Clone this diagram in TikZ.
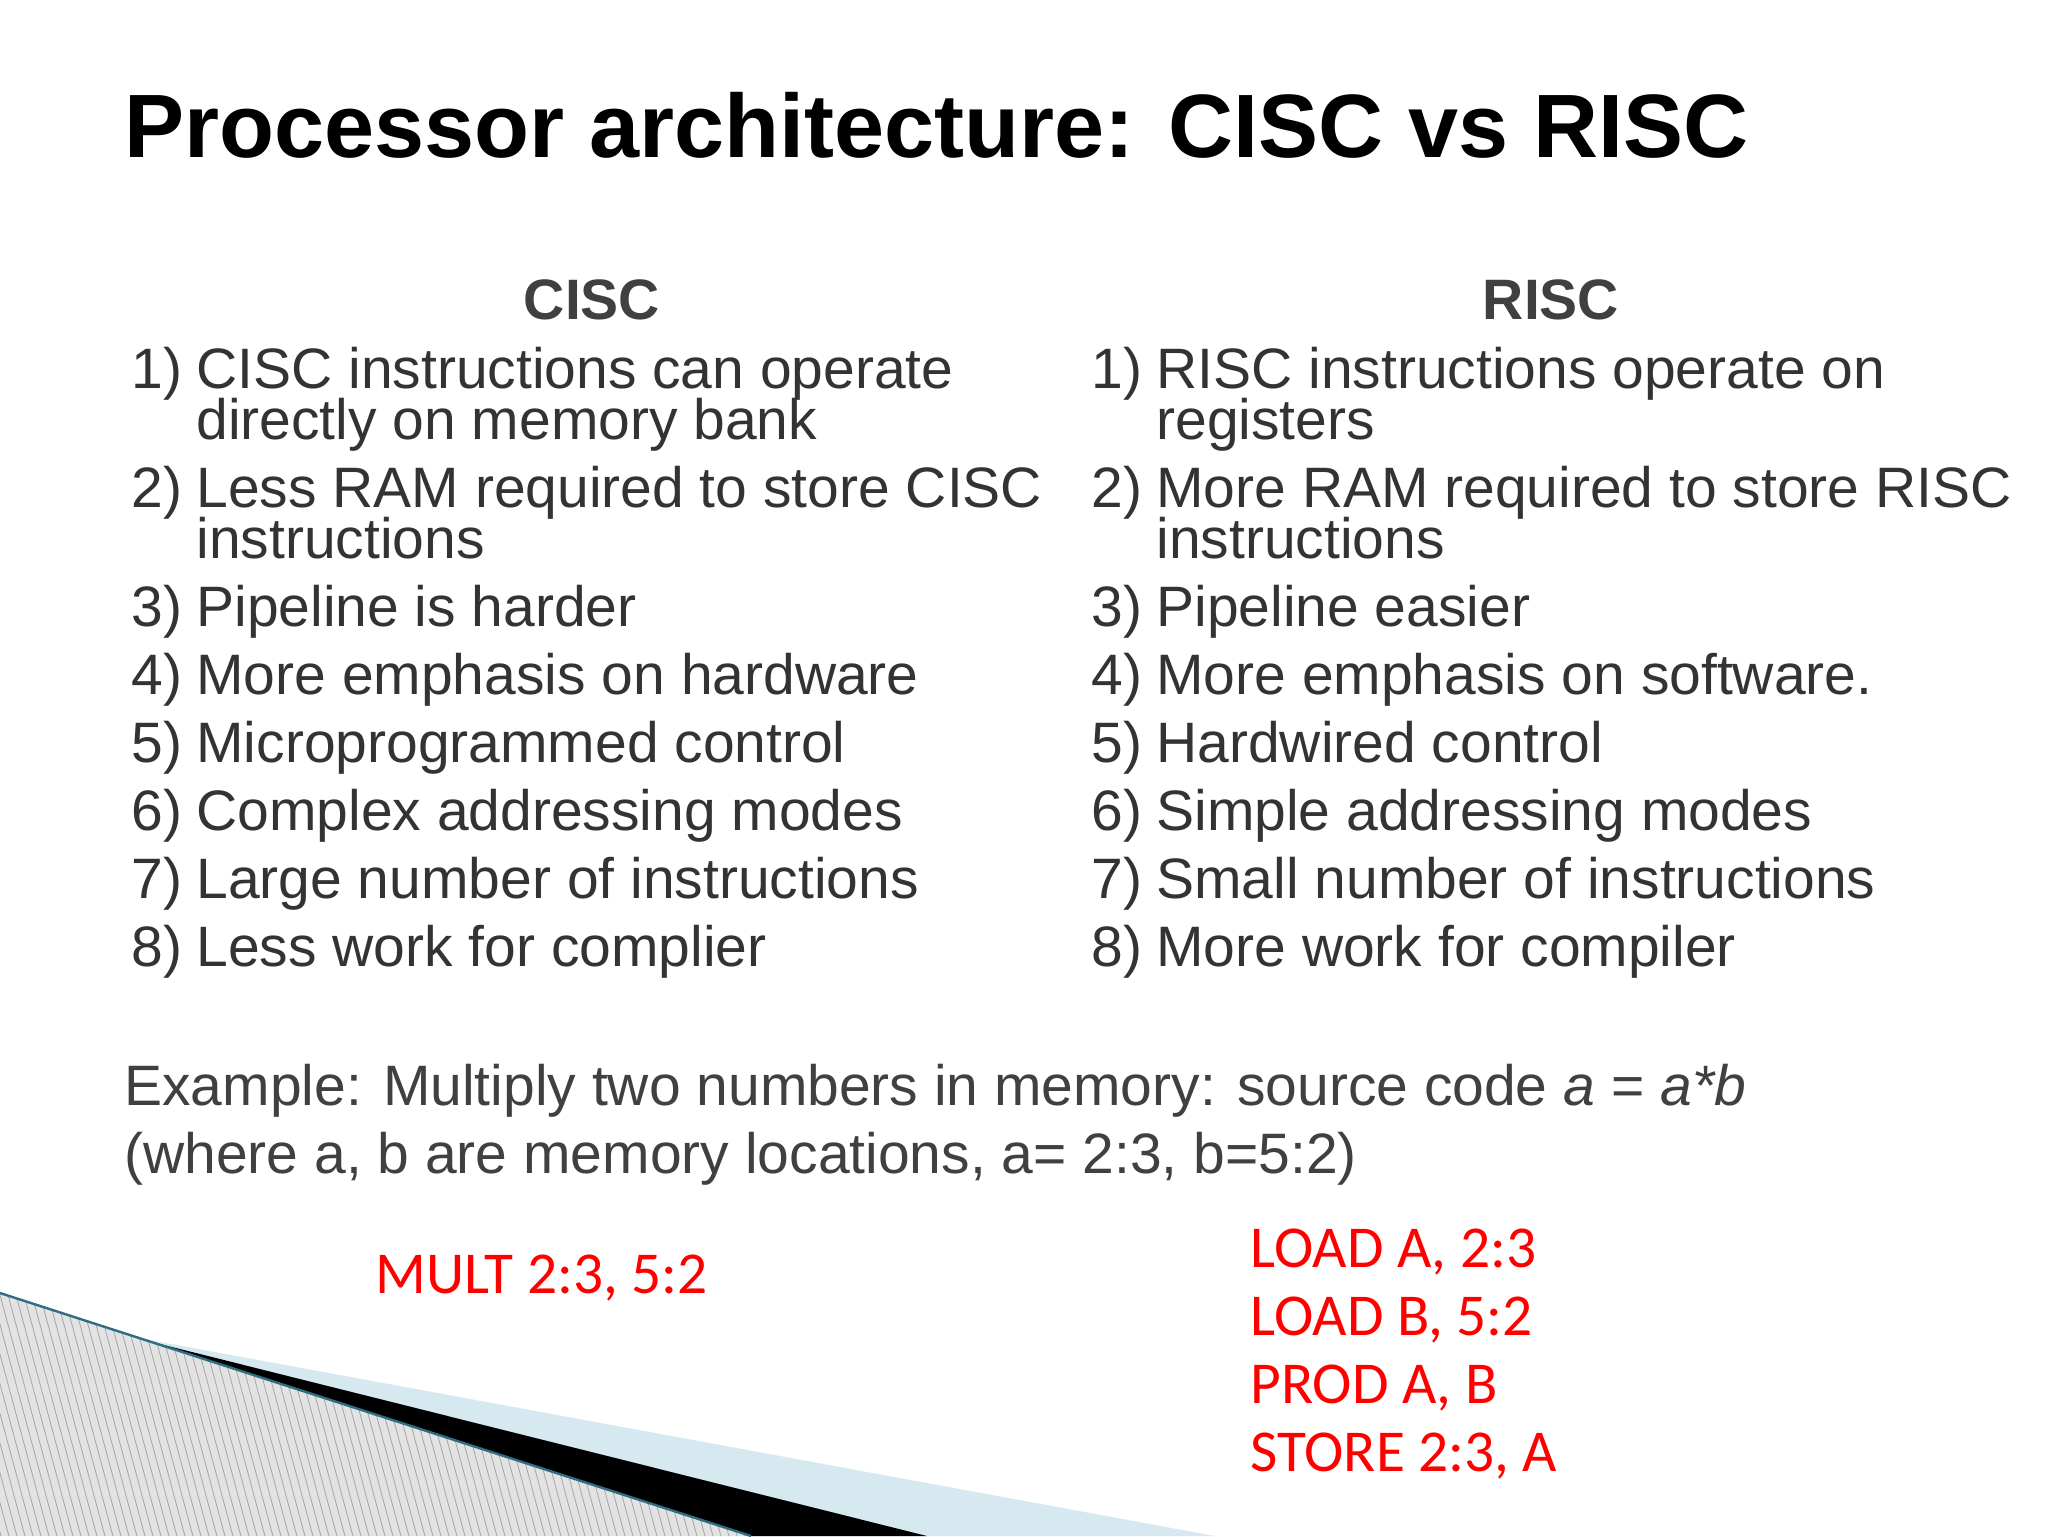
\documentclass[tikz,border=0pt]{standalone}
\usepackage{fontspec}
\setmainfont{Liberation Sans}
\newfontfamily\redfont{Carlito}
\definecolor{txt}{HTML}{333333}
\definecolor{hdr}{HTML}{404040}
\definecolor{lblue}{HTML}{D6E8F0}
\definecolor{tealc}{HTML}{2E6E80}
\begin{document}
\begin{tikzpicture}[x=0.5pt,y=-0.5pt,
  item/.style={anchor=base west,inner sep=0pt,font=\fontsize{28.5pt}{34pt}\selectfont,text=txt},
  head/.style={anchor=base,inner sep=0pt,font=\fontsize{28.5pt}{34pt}\selectfont\bfseries,text=hdr},
  redtxt/.style={anchor=base west,inner sep=0pt,font=\redfont\fontsize{29.7pt}{34pt}\selectfont,text=red}]
\useasboundingbox (0,0) rectangle (2048,1536);
\fill[white] (0,0) rectangle (2048,1536);
% decoration
\fill[lblue] (144,1339) -- (1215,1536) -- (700,1536) -- cycle;
\fill[black] (104,1330) -- (927,1536) -- (751,1536) -- cycle;
\begin{scope}
\clip (0,1293) -- (751,1536) -- (0,1536) -- cycle;
\fill[gray!22] (0,1280) rectangle (760,1536);
\foreach \i in {-300,-292,...,760} \draw[gray!70,line width=0.4pt] (\i,1280) -- (\i+70,1540);
\end{scope}
\draw[tealc,line width=1.2pt] (0,1293) -- (751,1536);
% title
\node[anchor=base west,inner sep=0pt,font=\fontsize{45pt}{54pt}\selectfont\bfseries] (title) at (124,157) {Processor architecture: CISC vs RISC};
% headers
\node[head] (hc) at (592,319) {CISC};
\node[head] (hr) at (1551,319) {RISC};
% CISC list
\foreach \n/\y/\t [count=\k] in {
 1)/388/{CISC instructions can operate},
 2)/507/{Less RAM required to store CISC},
 3)/626/{Pipeline is harder},
 4)/694/{More emphasis on hardware},
 5)/762/{Microprogrammed control},
 6)/830/{Complex addressing modes},
 7)/898/{Large number of instructions},
 8)/966/{Less work for complier}}{
 \node[item] (cn\k) at (131,\y) {\n};
 \node[item] (ct\k) at (196,\y) {\t};
}
\node[item] (ct1b) at (196,439) {directly on memory bank};
\node[item] (ct2b) at (196,558) {instructions};
% RISC list
\foreach \n/\y/\t [count=\k] in {
 1)/388/{RISC instructions operate on},
 2)/507/{More RAM required to store RISC},
 3)/626/{Pipeline easier},
 4)/694/{More emphasis on software.},
 5)/762/{Hardwired control},
 6)/830/{Simple addressing modes},
 7)/898/{Small number of instructions},
 8)/966/{More work for compiler}}{
 \node[item] (rn\k) at (1091,\y) {\n};
 \node[item] (rt\k) at (1156,\y) {\t};
}
\node[item] (rt1b) at (1156,439) {registers};
\node[item] (rt2b) at (1156,558) {instructions};
% example
\node[item,text=hdr] (ex1) at (124,1105) {Example: Multiply two numbers in memory: source code \textit{a} = \textit{a*b}};
\node[item,text=hdr] (ex2) at (124,1173) {(where a, b are memory locations, a= 2:3, b=5:2)};
% code
\node[redtxt] (mult) at (375,1293) {MULT 2:3, 5:2};
\node[redtxt] (l1) at (1250,1267) {LOAD A, 2:3};
\node[redtxt] (l2) at (1250,1335) {LOAD B, 5:2};
\node[redtxt] (l3) at (1250,1403) {PROD A, B};
\node[redtxt] (l4) at (1250,1471) {STORE 2:3, A};
\end{tikzpicture}
\end{document}
